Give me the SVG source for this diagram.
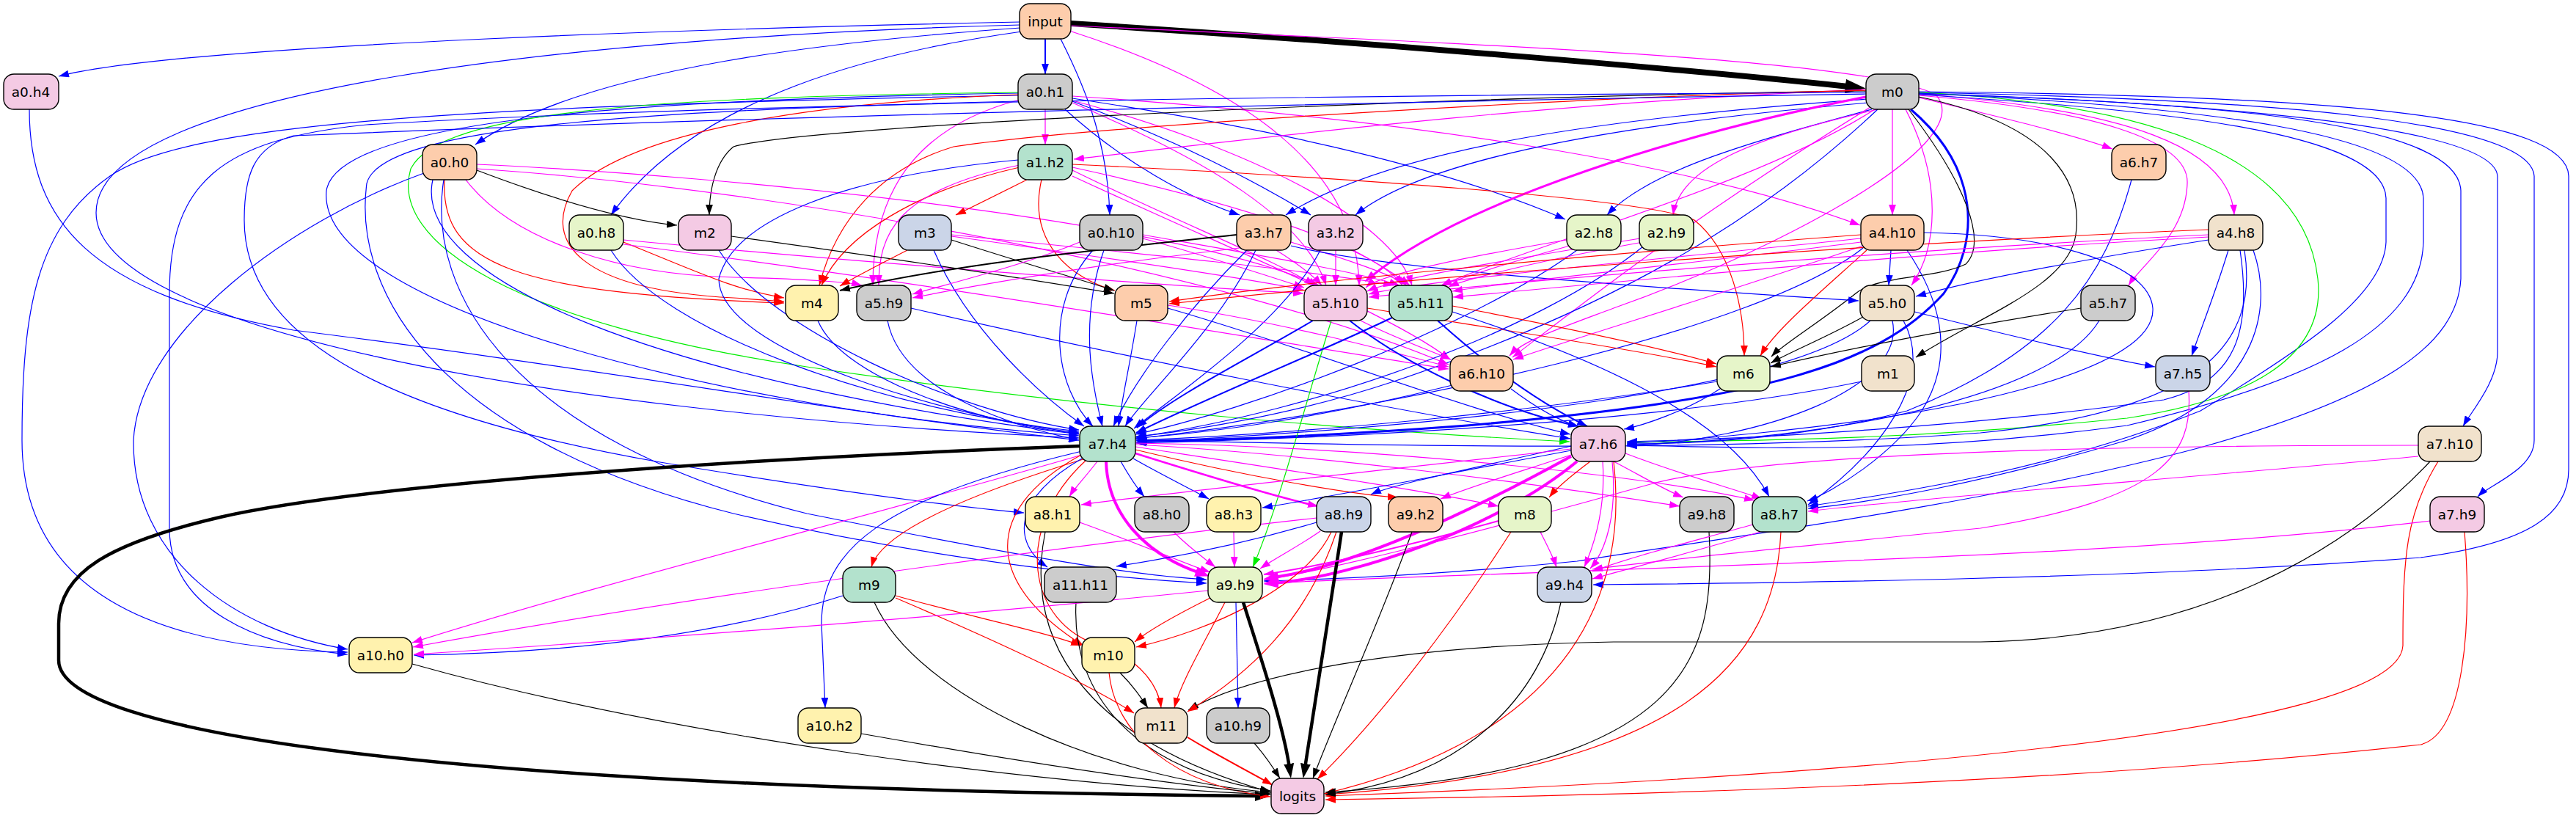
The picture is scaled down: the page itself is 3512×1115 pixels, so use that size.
<svg xmlns="http://www.w3.org/2000/svg" width="3512" height="1115" viewBox="0 0 3512 1115">
<style>
.n rect{stroke:#000;stroke-width:1.4}
.n text{font-family:"DejaVu Sans","Liberation Sans",sans-serif;font-size:18.5px;text-anchor:middle;fill:#000}
.c1{fill:#fdcdac}.c2{fill:#b3e2cd}.c3{fill:#cbd5e8}.c4{fill:#f4cae4}.c5{fill:#e6f5c9}.c6{fill:#fff2ae}.c7{fill:#f1e2cc}.c8{fill:#cccccc}
#edges path{fill:none;stroke-width:1.2}
#edges .b{stroke:#0000ff;marker-end:url(#ab)}
#edges .m{stroke:#ff00ff;marker-end:url(#am)}
#edges .r{stroke:#ff0000;marker-end:url(#ar)}
#edges .k{stroke:#000000;marker-end:url(#ak)}
#edges .g{stroke:#00ee00;marker-end:url(#ag)}
#edges .w2{stroke-width:2}
#edges .w25{stroke-width:2.6}
#edges .kL{stroke:#000;stroke-width:8;marker-end:url(#akL)}
#edges .kM{stroke:#000;stroke-width:4.5;marker-end:url(#akM)}
#edges .mM{stroke:#ff00ff;stroke-width:4;marker-end:url(#amM)}
#edges .mS{stroke:#ff00ff;stroke-width:3;marker-end:url(#amS)}
#edges .bM{stroke:#0000ff;stroke-width:3;marker-end:url(#abM)}
</style>
<defs>
<marker id="ab" viewBox="0 0 10 7" refX="10" refY="3.5" markerWidth="14" markerHeight="10" markerUnits="userSpaceOnUse" orient="auto"><path d="M0,0L10,3.5L0,7z" fill="#0000ff"/></marker>
<marker id="am" viewBox="0 0 10 7" refX="10" refY="3.5" markerWidth="14" markerHeight="10" markerUnits="userSpaceOnUse" orient="auto"><path d="M0,0L10,3.5L0,7z" fill="#ff00ff"/></marker>
<marker id="ar" viewBox="0 0 10 7" refX="10" refY="3.5" markerWidth="14" markerHeight="10" markerUnits="userSpaceOnUse" orient="auto"><path d="M0,0L10,3.5L0,7z" fill="#ff0000"/></marker>
<marker id="ak" viewBox="0 0 10 7" refX="10" refY="3.5" markerWidth="14" markerHeight="10" markerUnits="userSpaceOnUse" orient="auto"><path d="M0,0L10,3.5L0,7z" fill="#000000"/></marker>
<marker id="ag" viewBox="0 0 10 7" refX="10" refY="3.5" markerWidth="14" markerHeight="10" markerUnits="userSpaceOnUse" orient="auto"><path d="M0,0L10,3.5L0,7z" fill="#00ee00"/></marker>
<marker id="akL" viewBox="0 0 10 7" refX="1.5" refY="3.5" markerWidth="28" markerHeight="19.6" markerUnits="userSpaceOnUse" orient="auto"><path d="M0,0L10,3.5L0,7z" fill="#000"/></marker>
<marker id="akM" viewBox="0 0 10 7" refX="3" refY="3.5" markerWidth="20" markerHeight="14" markerUnits="userSpaceOnUse" orient="auto"><path d="M0,0L10,3.5L0,7z" fill="#000"/></marker>
<marker id="amM" viewBox="0 0 10 7" refX="3" refY="3.5" markerWidth="20" markerHeight="14" markerUnits="userSpaceOnUse" orient="auto"><path d="M0,0L10,3.5L0,7z" fill="#ff00ff"/></marker>
<marker id="amS" viewBox="0 0 10 7" refX="4" refY="3.5" markerWidth="16" markerHeight="11.2" markerUnits="userSpaceOnUse" orient="auto"><path d="M0,0L10,3.5L0,7z" fill="#ff00ff"/></marker>
<marker id="abM" viewBox="0 0 10 7" refX="4" refY="3.5" markerWidth="16" markerHeight="11.2" markerUnits="userSpaceOnUse" orient="auto"><path d="M0,0L10,3.5L0,7z" fill="#0000ff"/></marker>
</defs>
<rect width="3512" height="1115" fill="#fff"/>
<g id="edges">
<path class="kL" d="M1460,32 C1900,60 2300,95 2520,118"/>
<path class="b w2" d="M1425,53 L1425,101"/>
<path class="b" d="M1390,30 C1000,38 250,60 80,104"/>
<path class="b" d="M1391,38 C1150,55 800,90 648,197"/>
<path class="b" d="M1393,43 C1200,70 950,130 833,293"/>
<path class="b" d="M1446,53 C1485,130 1510,200 1513,293"/>
<path class="b" d="M1390,34 C800,50 131,120 131,290 C131,440 700,560 1471,597"/>
<path class="m" d="M1458,42 C1700,120 1850,230 1853,389"/>
<path class="m" d="M1460,35 C2000,60 2560,80 2640,130 C2700,200 2400,350 2200,420 C2120,450 2075,465 2058,485"/>
<path class="b" d="M40,149 C40,300 120,400 400,450 C800,500 1200,570 1471,600"/>
<path class="m" d="M1425,149 L1425,197"/>
<path class="b" d="M1452,149 C1530,220 1620,270 1690,293"/>
<path class="b" d="M1462,138 C1600,190 1700,240 1787,293"/>
<path class="b" d="M1462,134 C1700,170 1950,220 2134,299"/>
<path class="m" d="M1462,131 C1900,160 2300,220 2536,307"/>
<path class="b" d="M1388,127 C900,135 460,160 445,260 C430,420 1000,560 1471,594"/>
<path class="b" d="M1388,130 C600,145 250,170 150,240 C50,310 30,420 30,600 C30,800 200,885 474,889"/>
<path class="g" d="M1388,126 C900,132 600,150 560,230 C530,330 700,440 1100,500 C1500,560 1900,590 2140,602"/>
<path class="r" d="M1388,129 C1100,140 860,180 780,260 C740,330 790,395 1000,406 C1030,408 1050,410 1069,411"/>
<path class="m" d="M1390,136 C1260,170 1190,250 1190,389"/>
<path class="m" d="M1462,140 C1650,220 1780,300 1808,389"/>
<path class="m" d="M1462,137 C1700,200 1900,300 1925,389"/>
<path class="b" d="M1388,138 C900,150 520,170 500,250 C480,400 600,600 1000,700 C1300,770 1550,790 1645,795"/>
<path class="m" d="M2544,122 C2100,140 1700,190 1464,217"/>
<path class="k" d="M2544,124 C2000,130 1100,170 1000,200 C975,220 967,260 967,293"/>
<path class="b" d="M2546,135 C2200,160 1900,200 1753,293"/>
<path class="b" d="M2548,140 C2250,165 1950,210 1848,293"/>
<path class="b" d="M2552,149 C2400,190 2250,230 2191,293"/>
<path class="m" d="M2560,149 C2380,190 2290,230 2281,293"/>
<path class="m" d="M2580,149 L2580,293"/>
<path class="m" d="M2616,133 C2750,165 2830,185 2880,203"/>
<path class="m" d="M2616,128 C2900,150 3040,200 3046,293"/>
<path class="m" d="M2616,130 C2850,150 2985,190 2982,250 C2980,320 2920,360 2902,389"/>
<path class="b" d="M2616,127 C3000,140 3400,170 3405,240 L3405,480 C3405,520 3370,560 3358,581"/>
<path class="b" d="M2616,126 C3100,135 3450,165 3455,240 L3455,600 C3455,640 3395,660 3378,677"/>
<path class="b" d="M2616,125 C3200,130 3500,160 3502,240 L3502,640 C3502,700 3450,740 3300,760 C2900,790 2400,795 2172,797"/>
<path class="b" d="M2616,129 C2950,150 3250,180 3253,270 L3253,330 C3250,400 3150,470 3000,560 C2800,640 2600,670 2465,690"/>
<path class="b" d="M2616,128 C3050,140 3352,170 3355,260 L3355,380 C3350,470 3250,540 3000,610 C2700,690 2300,740 2150,765 C1950,785 1800,790 1723,792"/>
<path class="g" d="M2616,126 C2900,140 3140,200 3160,380 C3170,470 3100,540 2900,570 C2600,600 2400,600 2218,603"/>
<path class="b" d="M2616,127 C3000,145 3300,180 3304,270 L3304,330 C3300,450 3150,520 2900,580 C2600,620 2400,610 2218,607"/>
<path class="bM" d="M2605,149 C2700,230 2700,330 2650,400 C2560,500 2400,545 2000,580 C1800,595 1650,600 1558,601"/>
<path class="k" d="M2602,149 C2680,250 2710,330 2680,360 C2640,380 2560,375 2530,400 C2480,440 2430,470 2415,486"/>
<path class="k" d="M2616,132 C2800,170 2840,250 2830,320 C2820,390 2700,430 2612,487"/>
<path class="mS" d="M2544,132 C2300,180 2000,270 1868,378"/>
<path class="m" d="M2556,149 C2400,250 2100,330 1965,389"/>
<path class="m" d="M2598,149 C2650,250 2640,340 2606,389"/>
<path class="m" d="M2550,146 C2300,300 2150,420 2062,487"/>
<path class="r" d="M2544,123 C2200,130 1500,170 1300,200 C1200,230 1140,300 1117,389"/>
<path class="b" d="M2560,149 C2400,300 2200,420 1900,520 C1750,570 1600,590 1549,595"/>
<path class="b" d="M2544,126 C1800,130 1000,140 500,170 C300,190 231,250 231,400 L231,720 C231,830 350,880 474,892"/>
<path class="b" d="M2544,128 C1800,140 1000,160 400,185 C345,200 333,240 333,300 C333,450 500,560 900,630 C1200,680 1350,695 1396,699"/>
<path class="k" d="M650,232 C750,270 850,300 923,307"/>
<path class="r" d="M606,245 C600,360 700,400 1069,413"/>
<path class="m" d="M650,224 C1000,240 1600,300 1798,389"/>
<path class="m" d="M650,230 C1100,260 1700,380 1975,497"/>
<path class="m" d="M635,245 C700,330 850,375 1000,378 C1100,380 1160,385 1175,389"/>
<path class="b" d="M590,245 C560,380 900,520 1471,592"/>
<path class="b" d="M578,236 C400,300 190,450 182,600 C180,760 320,860 474,885"/>
<path class="b" d="M605,245 C580,400 700,600 1100,700 C1400,760 1550,785 1645,790"/>
<path class="r" d="M1400,245 C1350,270 1320,285 1303,293"/>
<path class="r" d="M1390,228 C1250,260 1150,320 1120,389"/>
<path class="r" d="M1420,245 C1400,330 1460,380 1520,396"/>
<path class="r" d="M1462,224 C1800,240 2250,270 2310,300 C2360,340 2378,420 2378,485"/>
<path class="m" d="M1390,225 C1220,260 1198,320 1198,389"/>
<path class="m" d="M1462,232 C1600,300 1750,360 1792,389"/>
<path class="m" d="M1462,228 C1700,280 1880,340 1912,389"/>
<path class="b" d="M1388,218 C1150,240 1000,300 980,380 C980,480 1300,570 1471,590"/>
<path class="m" d="M1462,240 C1700,350 1900,430 1977,490"/>
<path class="b" d="M2906,245 C2870,380 2800,480 2600,560 C2450,600 2300,605 2218,605"/>
<path class="r" d="M850,330 C950,370 1000,395 1069,406"/>
<path class="m" d="M850,327 C1200,360 1600,390 1777,400"/>
<path class="m" d="M850,333 C1300,390 1700,460 1975,503"/>
<path class="b" d="M833,341 C900,450 1200,560 1471,588"/>
<path class="k" d="M997,322 C1200,350 1400,380 1519,400"/>
<path class="b" d="M980,341 C1050,450 1300,560 1471,586"/>
<path class="r" d="M1237,341 C1200,360 1170,375 1145,390"/>
<path class="k" d="M1297,327 C1400,360 1470,380 1519,396"/>
<path class="b" d="M1273,341 C1320,450 1420,540 1478,581"/>
<path class="m" d="M1297,322 C1500,350 1700,380 1777,395"/>
<path class="m" d="M1297,320 C1550,345 1800,370 1900,389"/>
<path class="b" d="M1490,341 C1420,420 1440,530 1490,581"/>
<path class="b" d="M1505,341 C1470,440 1490,530 1503,581"/>
<path class="m" d="M1558,325 C1650,350 1740,380 1778,392"/>
<path class="m" d="M1558,320 C1700,345 1850,370 1908,389"/>
<path class="m" d="M1472,330 C1400,360 1300,385 1244,401"/>
<path class="k w2" d="M1686,320 C1500,340 1300,360 1145,396"/>
<path class="b" d="M1700,341 C1620,420 1545,520 1518,581"/>
<path class="b" d="M1712,341 C1660,450 1560,540 1534,581"/>
<path class="m" d="M1740,341 C1770,360 1790,375 1802,389"/>
<path class="m" d="M1760,330 C1840,355 1900,375 1918,389"/>
<path class="b" d="M1760,335 C1900,370 2300,395 2534,410"/>
<path class="m" d="M1690,338 C1500,360 1350,385 1244,406"/>
<path class="m" d="M1821,341 L1821,389"/>
<path class="m" d="M1845,341 C1880,360 1905,375 1922,389"/>
<path class="b" d="M1800,341 C1750,440 1600,540 1546,584"/>
<path class="b" d="M2150,341 C2000,450 1700,560 1548,592"/>
<path class="m" d="M2136,327 C2000,350 1880,375 1862,392"/>
<path class="m" d="M2140,335 C2050,360 1990,380 1965,389"/>
<path class="b" d="M2240,336 C2100,450 1800,560 1548,596"/>
<path class="m" d="M2236,325 C2050,355 1900,380 1864,397"/>
<path class="m" d="M2240,330 C2100,355 2000,380 1975,391"/>
<path class="b" d="M2578,341 L2575,389"/>
<path class="r" d="M2537,320 C2200,345 1800,380 1594,411"/>
<path class="r" d="M2545,341 C2480,400 2420,450 2400,485"/>
<path class="m" d="M2537,325 C2300,350 1950,380 1866,401"/>
<path class="m" d="M2537,330 C2300,360 2050,385 1980,397"/>
<path class="m" d="M2540,335 C2350,400 2150,460 2063,490"/>
<path class="b" d="M2540,338 C2400,450 1900,560 1548,598"/>
<path class="b" d="M2600,341 C2640,400 2670,480 2620,560 C2580,620 2500,670 2464,683"/>
<path class="b" d="M2623,317 C2800,320 2930,360 2935,420 C2940,500 2700,560 2400,590 C2300,600 2250,603 2218,604"/>
<path class="b" d="M3011,327 C2800,360 2680,385 2612,404"/>
<path class="b" d="M3038,341 C3020,400 3000,450 2988,485"/>
<path class="b" d="M3054,341 C3070,450 3050,520 2950,545 C2700,580 2400,598 2218,602"/>
<path class="b" d="M3060,341 C3080,470 3000,560 2700,590 C2300,620 1800,605 1549,600"/>
<path class="b" d="M3072,341 C3100,420 3080,540 2900,600 C2700,660 2550,685 2465,693"/>
<path class="r" d="M3011,313 C2600,330 2000,370 1594,414"/>
<path class="m" d="M3011,320 C2600,340 2100,380 1866,405"/>
<path class="m" d="M3011,323 C2600,345 2200,385 1981,405"/>
<path class="b" d="M1115,437 C1150,520 1350,580 1471,591"/>
<path class="b" d="M1210,437 C1230,540 1400,585 1471,600"/>
<path class="b" d="M1242,420 C1500,480 1900,560 2141,598"/>
<path class="b" d="M1550,437 C1540,500 1530,540 1525,581"/>
<path class="b" d="M1592,420 C1800,480 2000,560 2141,592"/>
<path class="m" d="M1592,416 C1750,440 1900,480 1975,500"/>
<path class="b w2" d="M1790,437 C1700,490 1600,540 1550,583"/>
<path class="b w2" d="M1840,437 C1920,500 2050,560 2152,581"/>
<path class="m" d="M1855,437 C1900,460 1950,478 1978,490"/>
<path class="r" d="M1864,420 C2050,450 2250,480 2340,500"/>
<path class="g" d="M1815,437 C1780,550 1740,700 1708,773"/>
<path class="b w2" d="M1900,432 C1800,480 1650,540 1549,590"/>
<path class="b w2" d="M1960,437 C2030,500 2100,550 2164,581"/>
<path class="r" d="M1980,417 C2100,440 2250,470 2340,496"/>
<path class="b" d="M1980,425 C2150,480 2350,560 2412,677"/>
<path class="k" d="M2540,432 C2490,460 2440,480 2414,495"/>
<path class="b" d="M2610,425 C2750,460 2880,490 2938,500"/>
<path class="b" d="M2550,437 C2450,530 2000,580 1549,603"/>
<path class="b" d="M2580,437 C2600,530 2400,600 2218,608"/>
<path class="b" d="M2595,437 C2640,520 2560,620 2465,688"/>
<path class="k" d="M2837,420 C2650,450 2500,480 2414,500"/>
<path class="b" d="M2862,437 C2800,540 2500,600 2218,606"/>
<path class="b" d="M1980,525 C1800,570 1650,590 1549,597"/>
<path class="b" d="M2060,530 C2100,560 2130,575 2152,581"/>
<path class="b" d="M2341,520 C2100,560 1800,590 1549,600"/>
<path class="b" d="M2345,530 C2300,560 2240,580 2214,585"/>
<path class="b" d="M2538,520 C2300,570 1900,595 1549,604"/>
<path class="m" d="M2984,533 C2990,620 2950,680 2700,720 C2400,750 2250,765 2171,776"/>
<path class="kM" d="M1472,608 C1000,625 500,660 300,705 C150,740 80,780 80,850 L80,900 C80,1000 600,1075 1717,1085"/>
<path class="m" d="M1496,629 C1480,650 1465,665 1458,677"/>
<path class="b" d="M1528,629 C1540,650 1550,665 1560,677"/>
<path class="b" d="M1545,625 C1580,645 1620,665 1648,680"/>
<path class="m w25" d="M1548,618 C1650,650 1750,680 1797,690"/>
<path class="mM" d="M1508,629 C1510,700 1560,755 1636,781"/>
<path class="r" d="M1548,613 C1700,650 1850,675 1906,678"/>
<path class="m" d="M1548,609 C1750,640 1950,670 2043,690"/>
<path class="m" d="M1548,606 C1800,620 2100,660 2290,690"/>
<path class="m" d="M1548,604 C1900,610 2250,650 2392,682"/>
<path class="r" d="M1480,625 C1300,680 1200,730 1188,773"/>
<path class="m" d="M1475,620 C1200,700 800,800 562,876"/>
<path class="b" d="M1475,615 C1200,680 1120,750 1120,850 L1125,965"/>
<path class="b" d="M1475,625 C1380,680 1380,740 1428,773"/>
<path class="r" d="M1474,620 C1330,700 1350,800 1477,880"/>
<path class="r" d="M1480,628 C1380,720 1400,850 1500,880 C1560,900 1580,940 1583,965"/>
<path class="r" d="M2168,629 C2140,650 2122,665 2112,678"/>
<path class="m" d="M2200,629 C2240,650 2270,668 2295,678"/>
<path class="m" d="M2216,618 C2300,650 2370,668 2402,680"/>
<path class="mM" d="M2142,622 C2000,700 1850,770 1737,787"/>
<path class="mM" d="M2150,629 C2040,720 1850,785 1737,795"/>
<path class="m" d="M2185,629 C2190,700 2170,750 2160,773"/>
<path class="m" d="M2198,629 C2205,700 2190,750 2168,775"/>
<path class="r" d="M2200,629 C2220,800 2150,1000 1805,1082"/>
<path class="b" d="M2142,614 C1950,650 1800,680 1721,692"/>
<path class="b" d="M2142,608 C2000,640 1900,660 1869,674"/>
<path class="m" d="M2142,612 C1900,640 1600,670 1474,688"/>
<path class="m" d="M2142,620 C2050,650 2000,665 1964,680"/>
<path class="m" d="M3297,622 C3000,650 2600,680 2465,697"/>
<path class="m" d="M3297,607 C2800,607 2400,620 2250,660 C2000,730 1800,780 1723,790"/>
<path class="k" d="M3313,629 C3200,750 3000,870 2700,875 L2200,875 C1900,880 1700,920 1620,968"/>
<path class="r" d="M3324,629 C3280,700 3276,760 3276,880 C3270,1000 2500,1060 1807,1085"/>
<path class="m" d="M3313,710 C2900,760 2300,770 1723,795"/>
<path class="r" d="M3360,725 C3370,850 3360,1000 3300,1015 C2800,1070 2200,1085 1807,1090"/>
<path class="m" d="M1472,712 C1550,740 1620,770 1650,780"/>
<path class="k" d="M1425,725 C1400,850 1450,1000 1733,1080"/>
<path class="m" d="M1600,725 C1620,745 1640,760 1657,773"/>
<path class="m" d="M1682,725 L1683,773"/>
<path class="kM" d="M1829,725 C1810,850 1790,980 1779,1047"/>
<path class="m" d="M1800,724 C1770,745 1740,760 1718,775"/>
<path class="b" d="M1795,712 C1700,740 1600,760 1522,772"/>
<path class="r" d="M1815,725 C1780,800 1650,860 1549,882"/>
<path class="r" d="M1822,725 C1780,850 1700,920 1619,970"/>
<path class="m" d="M1795,706 C1400,750 900,820 563,882"/>
<path class="k" d="M1925,725 C1880,850 1820,980 1790,1061"/>
<path class="m w2" d="M2043,710 C1900,750 1780,775 1723,783"/>
<path class="m" d="M2100,725 C2110,745 2118,760 2122,773"/>
<path class="r" d="M2060,725 C1980,850 1880,980 1796,1062"/>
<path class="k" d="M2330,725 C2340,900 2300,1050 1807,1080"/>
<path class="m" d="M2390,715 C2300,740 2220,760 2171,779"/>
<path class="m" d="M2400,725 C2300,755 2220,775 2171,789"/>
<path class="r" d="M2428,725 C2420,900 2300,1050 1807,1083"/>
<path class="b" d="M1149,812 C1000,860 800,890 564,893"/>
<path class="r" d="M1221,812 C1320,840 1420,860 1474,880"/>
<path class="r" d="M1221,815 C1350,870 1480,930 1546,972"/>
<path class="k" d="M1192,821 C1250,950 1500,1060 1732,1080"/>
<path class="k" d="M1467,821 C1460,950 1550,1050 1732,1078"/>
<path class="kM" d="M1695,821 C1720,900 1750,990 1758,1047"/>
<path class="r" d="M1650,815 C1600,840 1565,860 1547,875"/>
<path class="r" d="M1670,821 C1640,880 1610,930 1601,965"/>
<path class="b" d="M1685,821 L1688,965"/>
<path class="m" d="M1647,805 C1300,840 900,870 564,892"/>
<path class="k" d="M2128,821 C2100,950 2000,1060 1807,1083"/>
<path class="k" d="M562,905 C900,1000 1400,1070 1732,1083"/>
<path class="k" d="M1527,917 C1545,935 1555,950 1565,965"/>
<path class="r" d="M1512,917 C1520,1000 1600,1070 1732,1086"/>
<path class="k" d="M1174,1000 C1400,1040 1600,1070 1732,1082"/>
<path class="r w2" d="M1619,1005 C1660,1030 1700,1050 1735,1070"/>
<path class="k" d="M1710,1013 C1725,1030 1735,1045 1745,1061"/>
</g>
<g id="nodes">
<g id="input" class="n"><rect class="c1" x="1390" y="5" width="70" height="48" rx="14"/><text x="1425" y="36">input</text></g>
<g id="a0.h4" class="n"><rect class="c4" x="5" y="101" width="75" height="48" rx="14"/><text x="42" y="132">a0.h4</text></g>
<g id="a0.h1" class="n"><rect class="c8" x="1388" y="101" width="74" height="48" rx="14"/><text x="1425" y="132">a0.h1</text></g>
<g id="m0" class="n"><rect class="c8" x="2544" y="101" width="72" height="48" rx="14"/><text x="2580" y="132">m0</text></g>
<g id="a0.h0" class="n"><rect class="c1" x="576" y="197" width="74" height="48" rx="14"/><text x="613" y="228">a0.h0</text></g>
<g id="a1.h2" class="n"><rect class="c2" x="1388" y="197" width="74" height="48" rx="14"/><text x="1425" y="228">a1.h2</text></g>
<g id="a6.h7" class="n"><rect class="c1" x="2879" y="197" width="74" height="48" rx="14"/><text x="2916" y="228">a6.h7</text></g>
<g id="a0.h8" class="n"><rect class="c5" x="776" y="293" width="74" height="48" rx="14"/><text x="813" y="324">a0.h8</text></g>
<g id="m2" class="n"><rect class="c4" x="925" y="293" width="72" height="48" rx="14"/><text x="961" y="324">m2</text></g>
<g id="m3" class="n"><rect class="c3" x="1225" y="293" width="72" height="48" rx="14"/><text x="1261" y="324">m3</text></g>
<g id="a0.h10" class="n"><rect class="c8" x="1472" y="293" width="86" height="48" rx="14"/><text x="1515" y="324">a0.h10</text></g>
<g id="a3.h7" class="n"><rect class="c1" x="1686" y="293" width="74" height="48" rx="14"/><text x="1723" y="324">a3.h7</text></g>
<g id="a3.h2" class="n"><rect class="c4" x="1784" y="293" width="74" height="48" rx="14"/><text x="1821" y="324">a3.h2</text></g>
<g id="a2.h8" class="n"><rect class="c5" x="2136" y="293" width="74" height="48" rx="14"/><text x="2173" y="324">a2.h8</text></g>
<g id="a2.h9" class="n"><rect class="c5" x="2235" y="293" width="74" height="48" rx="14"/><text x="2272" y="324">a2.h9</text></g>
<g id="a4.h10" class="n"><rect class="c1" x="2537" y="293" width="86" height="48" rx="14"/><text x="2580" y="324">a4.h10</text></g>
<g id="a4.h8" class="n"><rect class="c7" x="3011" y="293" width="74" height="48" rx="14"/><text x="3048" y="324">a4.h8</text></g>
<g id="m4" class="n"><rect class="c6" x="1071" y="389" width="72" height="48" rx="14"/><text x="1107" y="420">m4</text></g>
<g id="a5.h9" class="n"><rect class="c8" x="1168" y="389" width="74" height="48" rx="14"/><text x="1205" y="420">a5.h9</text></g>
<g id="m5" class="n"><rect class="c1" x="1520" y="389" width="72" height="48" rx="14"/><text x="1556" y="420">m5</text></g>
<g id="a5.h10" class="n"><rect class="c4" x="1778" y="389" width="86" height="48" rx="14"/><text x="1821" y="420">a5.h10</text></g>
<g id="a5.h11" class="n"><rect class="c2" x="1894" y="389" width="86" height="48" rx="14"/><text x="1937" y="420">a5.h11</text></g>
<g id="a5.h0" class="n"><rect class="c7" x="2536" y="389" width="74" height="48" rx="14"/><text x="2573" y="420">a5.h0</text></g>
<g id="a5.h7" class="n"><rect class="c8" x="2837" y="389" width="74" height="48" rx="14"/><text x="2874" y="420">a5.h7</text></g>
<g id="a6.h10" class="n"><rect class="c1" x="1977" y="485" width="86" height="48" rx="14"/><text x="2020" y="516">a6.h10</text></g>
<g id="m6" class="n"><rect class="c5" x="2341" y="485" width="72" height="48" rx="14"/><text x="2377" y="516">m6</text></g>
<g id="m1" class="n"><rect class="c7" x="2538" y="485" width="72" height="48" rx="14"/><text x="2574" y="516">m1</text></g>
<g id="a7.h5" class="n"><rect class="c3" x="2939" y="485" width="74" height="48" rx="14"/><text x="2976" y="516">a7.h5</text></g>
<g id="a7.h4" class="n"><rect class="c2" x="1472" y="581" width="76" height="48" rx="14"/><text x="1510" y="612">a7.h4</text></g>
<g id="a7.h6" class="n"><rect class="c4" x="2142" y="581" width="74" height="48" rx="14"/><text x="2179" y="612">a7.h6</text></g>
<g id="a7.h10" class="n"><rect class="c7" x="3297" y="581" width="86" height="48" rx="14"/><text x="3340" y="612">a7.h10</text></g>
<g id="a8.h1" class="n"><rect class="c6" x="1398" y="677" width="74" height="48" rx="14"/><text x="1435" y="708">a8.h1</text></g>
<g id="a8.h0" class="n"><rect class="c8" x="1547" y="677" width="74" height="48" rx="14"/><text x="1584" y="708">a8.h0</text></g>
<g id="a8.h3" class="n"><rect class="c6" x="1645" y="677" width="74" height="48" rx="14"/><text x="1682" y="708">a8.h3</text></g>
<g id="a8.h9" class="n"><rect class="c3" x="1795" y="677" width="74" height="48" rx="14"/><text x="1832" y="708">a8.h9</text></g>
<g id="a9.h2" class="n"><rect class="c1" x="1893" y="677" width="74" height="48" rx="14"/><text x="1930" y="708">a9.h2</text></g>
<g id="m8" class="n"><rect class="c5" x="2043" y="677" width="72" height="48" rx="14"/><text x="2079" y="708">m8</text></g>
<g id="a9.h8" class="n"><rect class="c8" x="2290" y="677" width="74" height="48" rx="14"/><text x="2327" y="708">a9.h8</text></g>
<g id="a8.h7" class="n"><rect class="c2" x="2389" y="677" width="74" height="48" rx="14"/><text x="2426" y="708">a8.h7</text></g>
<g id="a7.h9" class="n"><rect class="c4" x="3313" y="677" width="74" height="48" rx="14"/><text x="3350" y="708">a7.h9</text></g>
<g id="m9" class="n"><rect class="c2" x="1149" y="773" width="72" height="48" rx="14"/><text x="1185" y="804">m9</text></g>
<g id="a11.h11" class="n"><rect class="c8" x="1424" y="773" width="98" height="48" rx="14"/><text x="1473" y="804">a11.h11</text></g>
<g id="a9.h9" class="n"><rect class="c5" x="1647" y="773" width="74" height="48" rx="14"/><text x="1684" y="804">a9.h9</text></g>
<g id="a9.h4" class="n"><rect class="c3" x="2096" y="773" width="74" height="48" rx="14"/><text x="2133" y="804">a9.h4</text></g>
<g id="a10.h0" class="n"><rect class="c6" x="476" y="869" width="86" height="48" rx="14"/><text x="519" y="900">a10.h0</text></g>
<g id="m10" class="n"><rect class="c6" x="1475" y="869" width="72" height="48" rx="14"/><text x="1511" y="900">m10</text></g>
<g id="a10.h2" class="n"><rect class="c6" x="1088" y="965" width="86" height="48" rx="14"/><text x="1131" y="996">a10.h2</text></g>
<g id="m11" class="n"><rect class="c7" x="1547" y="965" width="72" height="48" rx="14"/><text x="1583" y="996">m11</text></g>
<g id="a10.h9" class="n"><rect class="c8" x="1645" y="965" width="86" height="48" rx="14"/><text x="1688" y="996">a10.h9</text></g>
<g id="logits" class="n"><rect class="c4" x="1733" y="1061" width="72" height="48" rx="14"/><text x="1769" y="1092">logits</text></g>
</g>
</svg>
